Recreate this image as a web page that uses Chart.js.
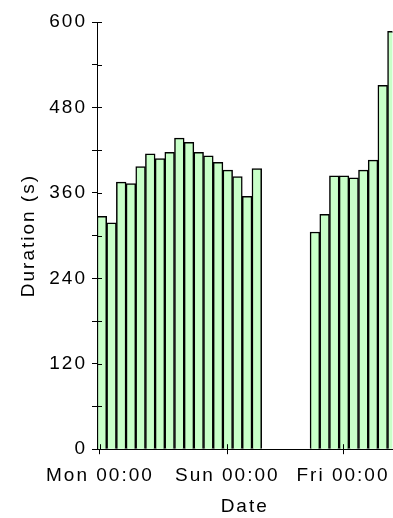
<!DOCTYPE html>
<html>
<head>
<meta charset="utf-8">
<script src="https://cdn.jsdelivr.net/npm/chart.js@4"></script>
<style>
  html, body { margin: 0; padding: 0; background: #fff; overflow: hidden; }
  #wrap { width: 400px; height: 518px; }
</style>
</head>
<body>
<div id="wrap"><canvas id="c" width="400" height="518"></canvas></div>
<script>
// Durations (s) per time slot; null = no data
const durations = [327, 318, 375, 373, 397, 415, 408, 417, 437, 431, 417, 412, 403, 392, 383, 355, 394,
                   null, null, null, null, null,
                   305, 330, 384, 384, 381, 392, 406, 511, 587];
// x-axis tick labels and their positions (in slot units)
const xTickLabels = ['Mon 00:00', 'Sun 00:00', 'Fri 00:00'];
const xTickSlots = [0.3, 13.45, 25.4];
const yTicks = [0, 60, 120, 180, 240, 300, 360, 420, 480, 540, 600];
const yLabelled = [0, 120, 240, 360, 480, 600];

const FONT = { family: "'Liberation Sans', Arial, sans-serif", size: 19 };

const spacingPlugin = {
  id: 'spacing',
  afterInit(chart) { chart.ctx.letterSpacing = '2px'; },
  beforeUpdate(chart) { chart.ctx.letterSpacing = '2px'; },
  beforeDraw(chart) { chart.ctx.letterSpacing = '2px'; }
};

// inner half of tick marks (ticks cross the axis)
const innerTicks = {
  id: 'innerTicks',
  afterDatasetsDraw(chart) {
    const ctx = chart.ctx;
    const xs = chart.scales.x, ys = chart.scales.y;
    ctx.save();
    ctx.strokeStyle = '#000';
    ctx.lineWidth = 1;
    ctx.beginPath();
    ys.ticks.forEach(t => {
      const py = Math.round(ys.getPixelForValue(t.value)) + 0.5;
      ctx.moveTo(ys.right, py);
      ctx.lineTo(ys.right + 5, py);
    });
    xs.ticks.forEach(t => {
      const px = Math.round(xs.getPixelForValue(t.value)) + 0.5;
      ctx.moveTo(px, xs.top);
      ctx.lineTo(px, xs.top - 5);
    });
    ctx.stroke();
    ctx.restore();
  }
};

new Chart(document.getElementById('c'), {
  type: 'bar',
  data: {
    datasets: [{
      data: durations.map((v, i) => ({ x: i + 0.5, y: v })),
      backgroundColor: '#c8ffc8',
      borderColor: '#000',
      borderWidth: 1.5,
      barPercentage: 1,
      categoryPercentage: 1
    }]
  },
  options: {
    responsive: false,
    animation: false,
    devicePixelRatio: 1,
    layout: { padding: { top: 22, right: 3, left: 0, bottom: 0 } },
    plugins: { legend: { display: false }, tooltip: { enabled: false } },
    scales: {
      x: {
        type: 'linear',
        offset: false,
        min: 0,
        max: 30.5,
        afterBuildTicks(scale) { scale.ticks = xTickSlots.map(v => ({ value: v })); },
        ticks: {
          color: '#000', font: FONT, padding: 10, maxRotation: 0, autoSkip: false,
          callback: (v, i) => xTickLabels[i]
        },
        grid: { offset: false, drawOnChartArea: false, drawTicks: true, tickLength: 5, color: '#000' },
        border: { display: true, color: '#000', width: 1 },
        title: { display: true, text: 'Date', color: '#000', font: { ...FONT, lineHeight: 1 }, padding: { top: 0, bottom: 2 } }
      },
      y: {
        min: 0,
        max: 600,
        afterBuildTicks(scale) { scale.ticks = yTicks.map(v => ({ value: v })); },
        afterFit(scale) { scale.width = 97; },
        ticks: {
          color: '#000', font: FONT, padding: 5,
          callback: (v) => yLabelled.includes(v) ? String(v) : ''
        },
        grid: { drawOnChartArea: false, drawTicks: true, tickLength: 5, color: '#000' },
        border: { display: true, color: '#000', width: 1 },
        title: { display: true, text: 'Duration (s)', color: '#000', font: FONT, padding: { top: 17, bottom: 0 } }
      }
    }
  },
  plugins: [spacingPlugin, innerTicks]
});
</script>
</body>
</html>
